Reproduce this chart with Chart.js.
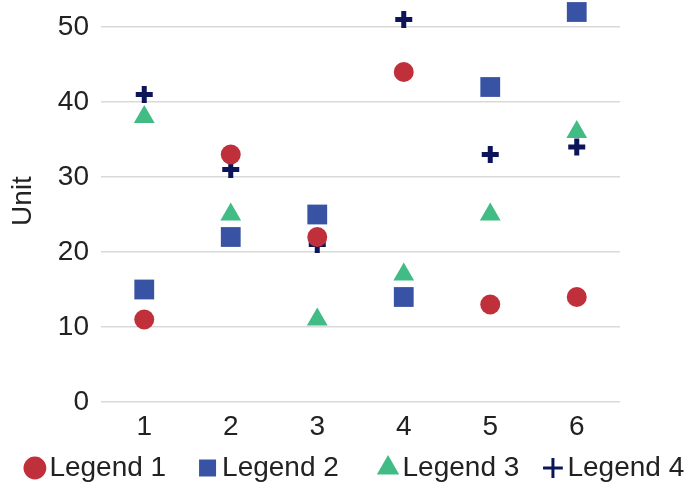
<!DOCTYPE html>
<html>
<head>
<meta charset="utf-8">
<script src="https://cdn.jsdelivr.net/npm/chart.js@4"></script>
<style>
  html, body { margin: 0; padding: 0; background: #ffffff; }
  #wrap { width: 694px; height: 489px; }
</style>
</head>
<body>
<div id="wrap"><canvas id="grafico"></canvas></div>
<script>
// dados
const categorias = ['1', '2', '3', '4', '5', '6'];
const legend1 = [11, 33, 22, 44, 13, 14];
const legend2 = [15, 22, 25, 14, 42, 52];
const legend3 = [38, 25, 11, 17, 25, 36];
const legend4 = [41, 31, 21, 51, 33, 34];
const nomes = ['Legend 1', 'Legend 2', 'Legend 3', 'Legend 4'];

const fonte = 'Liberation Sans, Arial, sans-serif';
// espaços no fim de cada item da legenda (só para afastar os itens)
const espacosLegenda = [5, 6, 4, 1];

function serie(label, data, cor, estilo, raio, borda) {
  return {
    label: label,
    data: data,
    showLine: false,
    yAxisID: 'y',
    pointStyle: estilo,
    pointRadius: raio,
    pointHoverRadius: raio,
    backgroundColor: cor,
    borderColor: cor,
    pointBorderWidth: borda,
    borderWidth: borda
  };
}

const ctx = document.getElementById('grafico').getContext('2d');
const chart = new Chart(ctx, {
  type: 'line',
  data: {
    labels: categorias,
    datasets: [
      serie(nomes[0], legend1, '#C0303B', 'circle', 10, 0),
      serie(nomes[1], legend2, '#3953A4', 'rect', 14, 0),
      serie(nomes[2], legend3, '#41BC84', 'triangle', 12, 0),
      serie(nomes[3], legend4, '#0C1559', 'cross', 8.5, 5)
    ]
  },
  options: {
    responsive: true,
    maintainAspectRatio: false,
    animation: false,
    layout: { autoPadding: false, padding: { left: 0, right: 0, top: 0, bottom: -3 } },
    plugins: {
      tooltip: { enabled: false },
      legend: {
        position: 'bottom',
        align: 'end',
        labels: {
          usePointStyle: true,
          boxWidth: 1,
          boxHeight: 14,
          padding: 2,
          color: '#222222',
          font: { family: fonte, size: 28 },
          generateLabels: function (c) {
            const itens = Chart.defaults.plugins.legend.labels.generateLabels(c);
            itens.forEach(function (it, i) {
              it.text = it.text + ' '.repeat(espacosLegenda[i]);
              it.lineWidth = 3;
            });
            return itens;
          }
        }
      }
    },
    scales: {
      x: {
        offset: true,
        grid: { display: false },
        border: { display: false },
        ticks: { color: '#222222', padding: 0, font: { family: fonte, size: 28 } },
        afterFit: function (s) { s.height = 50; s.paddingLeft = 0; s.paddingRight = 0; }
      },
      y: {
        min: 0,
        max: 53.6,
        grid: { color: '#d9d9d9', lineWidth: 1.5, drawTicks: false },
        border: { display: false },
        ticks: {
          stepSize: 10,
          includeBounds: false,
          color: '#222222',
          padding: 12,
          font: { family: fonte, size: 28 }
        },
        title: {
          display: true,
          text: 'Unit',
          color: '#222222',
          padding: { top: 6, bottom: 0 },
          font: { family: fonte, size: 28 }
        },
        afterFit: function (s) { s.width = 101; s.paddingTop = 0; s.paddingBottom = 0; }
      },
      margemDireita: {
        type: 'linear',
        position: 'right',
        min: 0,
        max: 53.6,
        grid: { display: false },
        border: { display: false },
        ticks: { display: false },
        afterFit: function (s) { s.width = 74; s.paddingTop = 0; s.paddingBottom = 0; }
      }
    }
  }
});
</script>
</body>
</html>
